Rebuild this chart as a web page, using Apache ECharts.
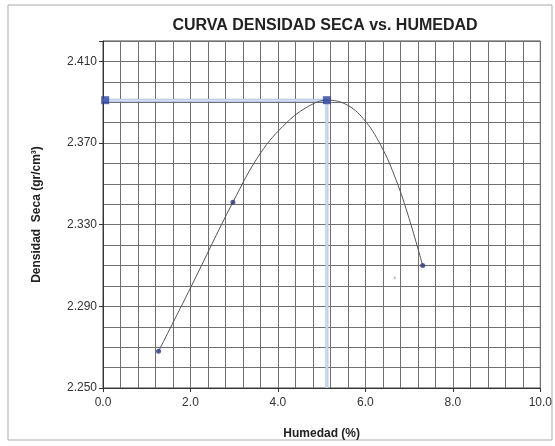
<!DOCTYPE html>
<html>
<head>
<meta charset="utf-8">
<script src="https://cdn.jsdelivr.net/npm/echarts@6/dist/echarts.min.js"></script>
<style>
  html, body { margin: 0; padding: 0; background: #fff; }
  #chart { width: 555px; height: 446px; }
</style>
</head>
<body>
<div id="chart"></div>
<script>
// measured points (humedad %, densidad seca)
const measured = [[1.27, 2.268], [2.97, 2.341], [7.31, 2.310]];
// points
const curvePts = [
  [1.27, 2.268], [2.00, 2.299], [2.97, 2.341], [3.60, 2.365],
  [4.20, 2.380], [4.70, 2.388], [5.12, 2.391], [5.55, 2.389], [5.95, 2.382],
  [6.35, 2.369], [6.70, 2.352], [7.00, 2.333], [7.31, 2.310]
];
const optimum = [5.12, 2.391];
const strayDot = [[6.67, 2.304]];
const xTicks = [0, 2, 4, 6, 8, 10];
const yTicks = [2.25, 2.29, 2.33, 2.37, 2.41];

const chart = echarts.init(document.getElementById('chart'));
const font = 'Liberation Sans, Arial, sans-serif';
const gridColor = '#707070';

chart.setOption({
  animation: false,
  title: {
    text: 'CURVA DENSIDAD SECA vs. HUMEDAD',
    left: 320, top: 13, textAlign: 'center',
    textStyle: { fontFamily: font, fontSize: 16, fontWeight: 'bold', color: '#222' }
  },
  graphic: [{
    type: 'rect', shape: { x: 8, y: 5, width: 544, height: 435 },
    style: { fill: 'none', stroke: '#aaa', lineWidth: 1 }, silent: true
  }],
  grid: { left: 103, right: 12, top: 41, bottom: 58, show: true, borderColor: '#444', borderWidth: 1 },
  xAxis: [{
    type: 'value', min: 0, max: 10, interval: 0.4,
    axisLine: { show: false }, axisTick: { show: false }, axisLabel: { show: false },
    splitLine: { show: true, lineStyle: { color: gridColor, width: 1 } }
  }, {
    type: 'value', min: 0, max: 10, interval: 2, position: 'bottom',
    name: 'Humedad (%)', nameLocation: 'middle', nameGap: 40,
    nameTextStyle: { fontFamily: font, fontSize: 12, fontWeight: 'bold', color: '#222' },
    axisLine: { show: true, lineStyle: { color: '#333' } },
    axisTick: { show: true, length: 4, lineStyle: { color: '#333' } },
    axisLabel: {
      margin: 9, fontFamily: font, fontSize: 12, color: '#333',
      formatter: v => xTicks.some(t => Math.abs(t - v) < 1e-6) ? v.toFixed(1) : ''
    },
    splitLine: { show: false }
  }],
  yAxis: [{
    type: 'value', min: 2.25, max: 2.42, interval: 0.01,
    axisLine: { show: false }, axisTick: { show: false }, axisLabel: { show: false },
    splitLine: { show: true, lineStyle: { color: gridColor, width: 1 } }
  }, {
    type: 'value', min: 2.25, max: 2.42, interval: 0.04, position: 'left',
    name: 'Densidad  Seca (gr/cm³)', nameLocation: 'middle', nameGap: 60,
    nameTextStyle: { fontFamily: font, fontSize: 12, fontWeight: 'bold', color: '#222' },
    axisLine: { show: true, lineStyle: { color: '#333' } },
    axisTick: { show: true, length: 4, lineStyle: { color: '#333' } },
    axisLabel: {
      margin: 6, fontFamily: font, fontSize: 12, color: '#333',
      formatter: v => yTicks.some(t => Math.abs(t - v) < 1e-6) ? v.toFixed(3) : ''
    },
    splitLine: { show: false }
  }],
  series: [
    {
      type: 'line', xAxisIndex: 1, yAxisIndex: 1, symbol: 'none',
      data: [[0, optimum[1]], optimum, [optimum[0], 2.25]],
      lineStyle: { color: '#a9bde6', width: 3 }, z: 2
    },
    {
      type: 'line', xAxisIndex: 1, yAxisIndex: 1, symbol: 'none',
      data: [[0, optimum[1]], optimum, [optimum[0], 2.25]],
      lineStyle: { color: '#e6edf9', width: 1 }, z: 3
    },
    {
      type: 'line', xAxisIndex: 1, yAxisIndex: 1, smooth: 0.4, symbol: 'none',
      data: curvePts, lineStyle: { color: '#555', width: 1 }, z: 4
    },
    {
      type: 'scatter', xAxisIndex: 1, yAxisIndex: 1, symbolSize: 5,
      data: measured, itemStyle: { color: '#2b3580' }, z: 5
    },
    {
      type: 'scatter', xAxisIndex: 1, yAxisIndex: 1, symbol: 'rect', symbolSize: 8,
      data: [optimum, [0.05, optimum[1]]], itemStyle: { color: '#2f44a0' }, z: 6
    },
    {
      type: 'scatter', xAxisIndex: 1, yAxisIndex: 1, symbolSize: 2,
      data: strayDot, itemStyle: { color: '#888' }, z: 5
    }
  ]
});
</script>
</body>
</html>
